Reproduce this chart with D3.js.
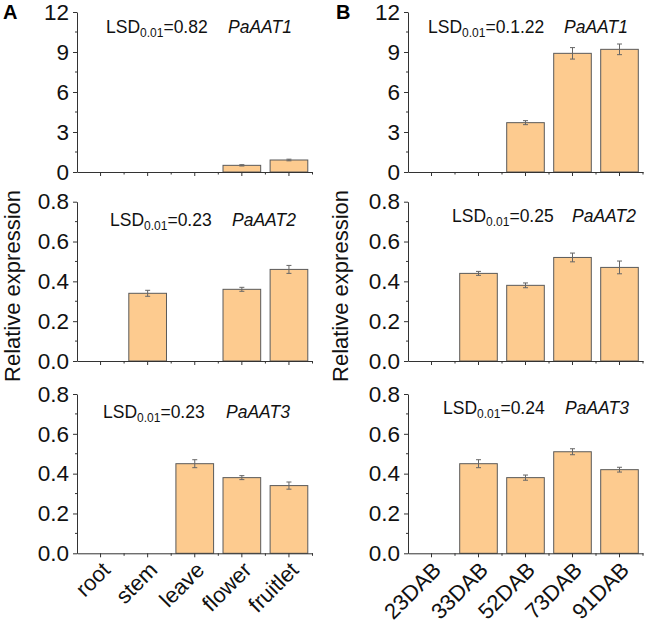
<!DOCTYPE html>
<html><head><meta charset="utf-8">
<script src="https://cdn.jsdelivr.net/npm/d3@7"></script>
<style>body{margin:0;background:#fff;} svg{display:block;font-family:"Liberation Sans",Arial,sans-serif;}</style>
</head><body>
<svg id="chart" width="649" height="623"></svg>
<script>
// ---- data ----
const tissues = ["root", "stem", "leave", "flower", "fruitlet"];
const stages = ["23DAB", "33DAB", "52DAB", "73DAB", "91DAB"];
const genes = ["PaAAT1", "PaAAT2", "PaAAT3"];

const tissueAAT1 = [0, 0, 0, 0.5, 0.9];
const tissueAAT1Err = [0, 0, 0, 0.05, 0.06];
const tissueAAT2 = [0, 0.34, 0, 0.36, 0.46];
const tissueAAT2Err = [0, 0.015, 0, 0.01, 0.02];
const tissueAAT3 = [0, 0, 0.45, 0.38, 0.34];
const tissueAAT3Err = [0, 0, 0.02, 0.01, 0.018];

const stageAAT1 = [0, 0, 3.7, 8.9, 9.2];
const stageAAT1Err = [0, 0, 0.15, 0.43, 0.4];
const stageAAT2 = [0, 0.44, 0.38, 0.52, 0.47];
const stageAAT2Err = [0, 0.01, 0.012, 0.022, 0.032];
const stageAAT3 = [0, 0.45, 0.38, 0.51, 0.42];
const stageAAT3Err = [0, 0.02, 0.013, 0.015, 0.012];

const lsdTissue = ["0.82", "0.23", "0.23"];
const lsdStage = ["0.1.22", "0.25", "0.24"];

const ticksRow1 = [0, 3, 6, 9, 12];
const ticksRow23 = [0, 0.2, 0.4, 0.6, 0.8];

// ---- layout ----
const svg = d3.select("#chart");
const rows = [
  {top: 12, bottom: 172, max: 12, ticks: ticksRow1, fmt: d3.format("d")},
  {top: 201.7, bottom: 361, max: 0.8, ticks: ticksRow23, fmt: d3.format(".1f")},
  {top: 394, bottom: 553.3, max: 0.8, ticks: ticksRow23, fmt: d3.format(".1f")}
];
const panels = [
  {x0: 77, x1: 312.5, cats: tissues, vals: [tissueAAT1, tissueAAT2, tissueAAT3],
   errs: [tissueAAT1Err, tissueAAT2Err, tissueAAT3Err], lsd: lsdTissue,
   lsdPos: [[106, 33], [110, 226], [103, 418]], genePos: [[228, 33], [232, 226], [226, 418]],
   letter: "A", letterX: 3, ylabX: 20},
  {x0: 408, x1: 643, cats: stages, vals: [stageAAT1, stageAAT2, stageAAT3],
   errs: [stageAAT1Err, stageAAT2Err, stageAAT3Err], lsd: lsdStage,
   lsdPos: [[428, 33], [452, 222], [443, 414]], genePos: [[564, 33], [572, 222], [565, 414]],
   letter: "B", letterX: 336, ylabX: 348}
];

const barFill = "#FDCB8F", barStroke = "#5a5a5a", axisCol = "#333";

panels.forEach(p => {
  const x = d3.scaleBand().domain(p.cats).range([p.x0, p.x1]).paddingInner(0.2).paddingOuter(0.1);
  rows.forEach((r, ri) => {
    const y = d3.scaleLinear().domain([0, r.max]).range([r.bottom, r.top]);
    const g = svg.append("g");
    const data = p.cats.map((c, i) => ({c, v: p.vals[ri][i], e: p.errs[ri][i]})).filter(d => d.v > 0);
    // bars
    g.selectAll("rect.bar").data(data).join("rect")
      .attr("x", d => x(d.c)).attr("width", x.bandwidth())
      .attr("y", d => y(d.v)).attr("height", d => y(0) - y(d.v))
      .attr("fill", barFill).attr("stroke", barStroke).attr("stroke-width", 1);
    // error bars
    const eb = g.selectAll("g.err").data(data).join("g").attr("stroke", "#666").attr("stroke-width", 1);
    eb.append("line").attr("x1", d => x(d.c) + x.bandwidth() / 2).attr("x2", d => x(d.c) + x.bandwidth() / 2)
      .attr("y1", d => y(d.v + d.e)).attr("y2", d => y(d.v - d.e));
    [1, -1].forEach(s => eb.append("line")
      .attr("x1", d => x(d.c) + x.bandwidth() / 2 - 2.5).attr("x2", d => x(d.c) + x.bandwidth() / 2 + 2.5)
      .attr("y1", d => y(d.v + s * d.e)).attr("y2", d => y(d.v + s * d.e)));
    // y axis
    const ya = g.append("g").attr("transform", `translate(${p.x0},0)`)
      .call(d3.axisLeft(y).tickValues(r.ticks).tickFormat(r.fmt).tickSize(4).tickPadding(4).tickSizeOuter(0));
    ya.select(".domain").attr("stroke", axisCol);
    ya.selectAll(".tick line").attr("stroke", axisCol);
    ya.selectAll("text").attr("font-size", 22.5).attr("fill", "#111");
    // minor y ticks
    const minorY = r.ticks.slice(0, -1).map((t, i) => (t + r.ticks[i + 1]) / 2);
    g.selectAll("line.my").data(minorY).join("line")
      .attr("x1", p.x0 - 2).attr("x2", p.x0).attr("y1", d => y(d)).attr("y2", d => y(d)).attr("stroke", axisCol);
    // x axis
    const xa = g.append("g").attr("transform", `translate(0,${r.bottom})`)
      .call(d3.axisBottom(x).tickSize(4).tickSizeOuter(0).tickFormat(""));
    xa.select(".domain").attr("stroke", axisCol);
    xa.selectAll(".tick line").attr("stroke", axisCol);
    const step = x.step();
    const minorX = p.cats.slice(1).map(c => x(c) + x.bandwidth() / 2 - step / 2).concat([p.x1]);
    g.selectAll("line.mx").data(minorX).join("line")
      .attr("x1", d => d).attr("x2", d => d).attr("y1", r.bottom).attr("y2", r.bottom + 2.5).attr("stroke", axisCol);
    // LSD annotation
    const t = g.append("text").attr("x", p.lsdPos[ri][0]).attr("y", p.lsdPos[ri][1]).attr("font-size", 17.5).attr("fill", "#111");
    t.append("tspan").text("LSD");
    t.append("tspan").attr("font-size", 12).attr("dy", 4).text("0.01");
    t.append("tspan").attr("dy", -4).text("=" + p.lsd[ri]);
    g.append("text").attr("x", p.genePos[ri][0]).attr("y", p.genePos[ri][1]).attr("font-size", 17.5)
      .attr("font-style", "italic").attr("fill", "#111").text(genes[ri]);
    // category labels on bottom row
    if (ri === 2) {
      g.selectAll("text.cat").data(p.cats).join("text")
        .attr("transform", d => `translate(${x(d) + x.bandwidth() / 2 + 11},${r.bottom + 18}) rotate(-45)`)
        .attr("text-anchor", "end").attr("font-size", 22).attr("fill", "#111").text(d => d);
    }
  });
  svg.append("text").attr("x", p.letterX).attr("y", 19).attr("font-size", 20).attr("font-weight", "bold").text(p.letter);
  svg.append("text").attr("transform", `translate(${p.ylabX},286) rotate(-90)`).attr("text-anchor", "middle")
    .attr("font-size", 22).attr("fill", "#111").text("Relative expression");
});
</script>
</body></html>
